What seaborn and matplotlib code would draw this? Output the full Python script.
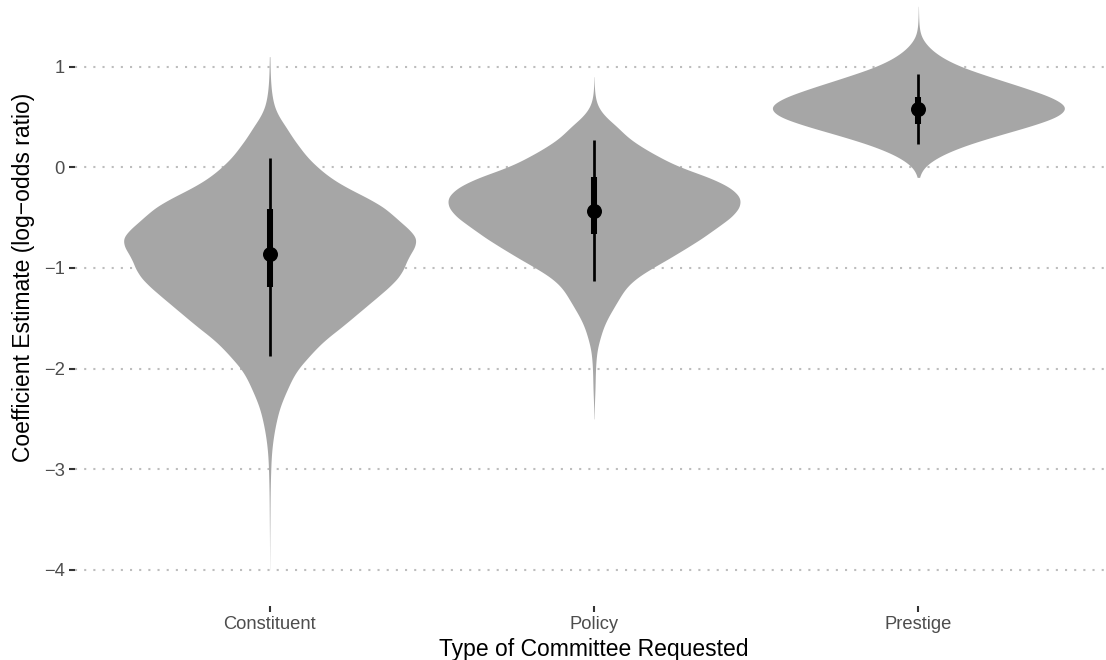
import numpy as np
import pandas as pd
import matplotlib
matplotlib.use("Agg")
import matplotlib.pyplot as plt
import seaborn as sns

# ---- data -------------------------------------------------------------
categories = ["Constituent", "Policy", "Prestige"]

# Posterior density of each coefficient (percent of its own peak),
# tabulated on a 0.1 grid of log-odds values.
constituent_grid = np.round(np.arange(1.1, -4.05, -0.1), 1)
constituent_density = [
    0.2, 0.3, 0.5, 0.9, 1.7, 3.1, 6.2, 11, 15, 20, 25, 32,
    40, 51, 65, 77, 84, 92, 99, 97, 92, 90, 86, 79, 71, 63,
    55, 47, 38, 31, 25, 19, 15, 12, 9, 6.5, 4.8, 3.4, 2.3, 1.5,
    1.0, 0.75, 0.55, 0.4, 0.3, 0.24, 0.19, 0.14, 0.1, 0.07, 0.05, 0.03,
]

policy_grid = np.round(np.arange(0.9, -2.55, -0.1), 1)
policy_density = [
    0.05, 0.2, 0.7, 2.4, 7.5, 16, 22, 32, 44, 57, 78, 92, 99, 98,
    92, 82, 73, 62, 51, 39, 28, 21, 17, 13, 9, 6, 4, 2.2,
    1.4, 1.0, 0.8, 0.7, 0.4, 0.2, 0.07,
]

prestige_grid = np.round(np.arange(1.6, -0.15, -0.1), 1)
prestige_density = [
    0.05, 0.15, 0.4, 1.4, 6, 14, 27, 47, 68, 88, 100, 93, 72, 48, 27, 12, 3, 0.2,
]

# Posterior medians with 50% and 95% credible intervals
median_est = [-0.86, -0.43, 0.58]
inner_lo = [-1.19, -0.66, 0.43]
inner_hi = [-0.41, -0.10, 0.70]
outer_lo = [-1.87, -1.13, 0.235]
outer_hi = [0.09, 0.275, 0.925]

# ---- style ------------------------------------------------------------
sns.set_theme(style="white")
plt.rcParams["font.family"] = ["Liberation Sans", "DejaVu Sans"]
plt.rcParams["axes.unicode_minus"] = True

fig = plt.figure(figsize=(1106 / 150, 660 / 150), dpi=150)
ax = fig.add_axes([75 / 1106, 54 / 660, 1038 / 1106, 658 / 660])

# ---- violins ------------------------------------------------------------
grids = [constituent_grid, policy_grid, prestige_grid]
densities = [constituent_density, policy_density, prestige_density]
for cat, grid, dens in zip(categories, grids, densities):
    counts = np.rint(np.asarray(dens) * 40).astype(int)
    draws = np.repeat(grid, counts)
    df = pd.DataFrame({"committee": cat, "estimate": draws})
    bw = 0.068 / draws.std(ddof=1)
    sns.violinplot(
        data=df, x="committee", y="estimate", order=categories,
        color="#A6A6A6", saturation=1, inner=None, linewidth=0,
        cut=0, density_norm="width", width=0.9, bw_method=bw,
        gridsize=500, ax=ax,
    )

# ---- medians and intervals ----------------------------------------------
pos = np.arange(len(categories))
ax.vlines(pos, outer_lo, outer_hi, color="black", lw=1.3,
          capstyle="butt", zorder=3)
ax.vlines(pos, inner_lo, inner_hi, color="black", lw=2.9,
          capstyle="butt", zorder=4)
sns.scatterplot(x=pos, y=median_est, color="black", s=7.2 ** 2,
                linewidth=0, zorder=5, legend=False, ax=ax)

# ---- axes ---------------------------------------------------------------
ax.set_xlim(-0.6, 2.6)
ax.set_ylim(-4.359, 2.179)
ax.set_xticks(pos)
ax.set_xticklabels(categories)
ax.set_yticks([-4, -3, -2, -1, 0, 1])
ax.yaxis.grid(True, color="#BDBDBD", linewidth=1.0,
              linestyle=(0, (1, 3.4)))
ax.xaxis.grid(False)
ax.set_axisbelow(True)
for s in ax.spines.values():
    s.set_visible(False)
ax.tick_params(axis="both", which="major", length=2.75, width=1.0,
               color="#333333", labelcolor="#4D4D4D", labelsize=8.8,
               pad=2.2, bottom=True, left=True)

ax.set_xlabel("Type of Committee Requested", fontsize=11, color="black",
              labelpad=2.2)
ax.set_ylabel("Coefficient Estimate (log\u2212odds ratio)", fontsize=11,
              color="black", labelpad=4)

fig.savefig("out.png", dpi=150)
